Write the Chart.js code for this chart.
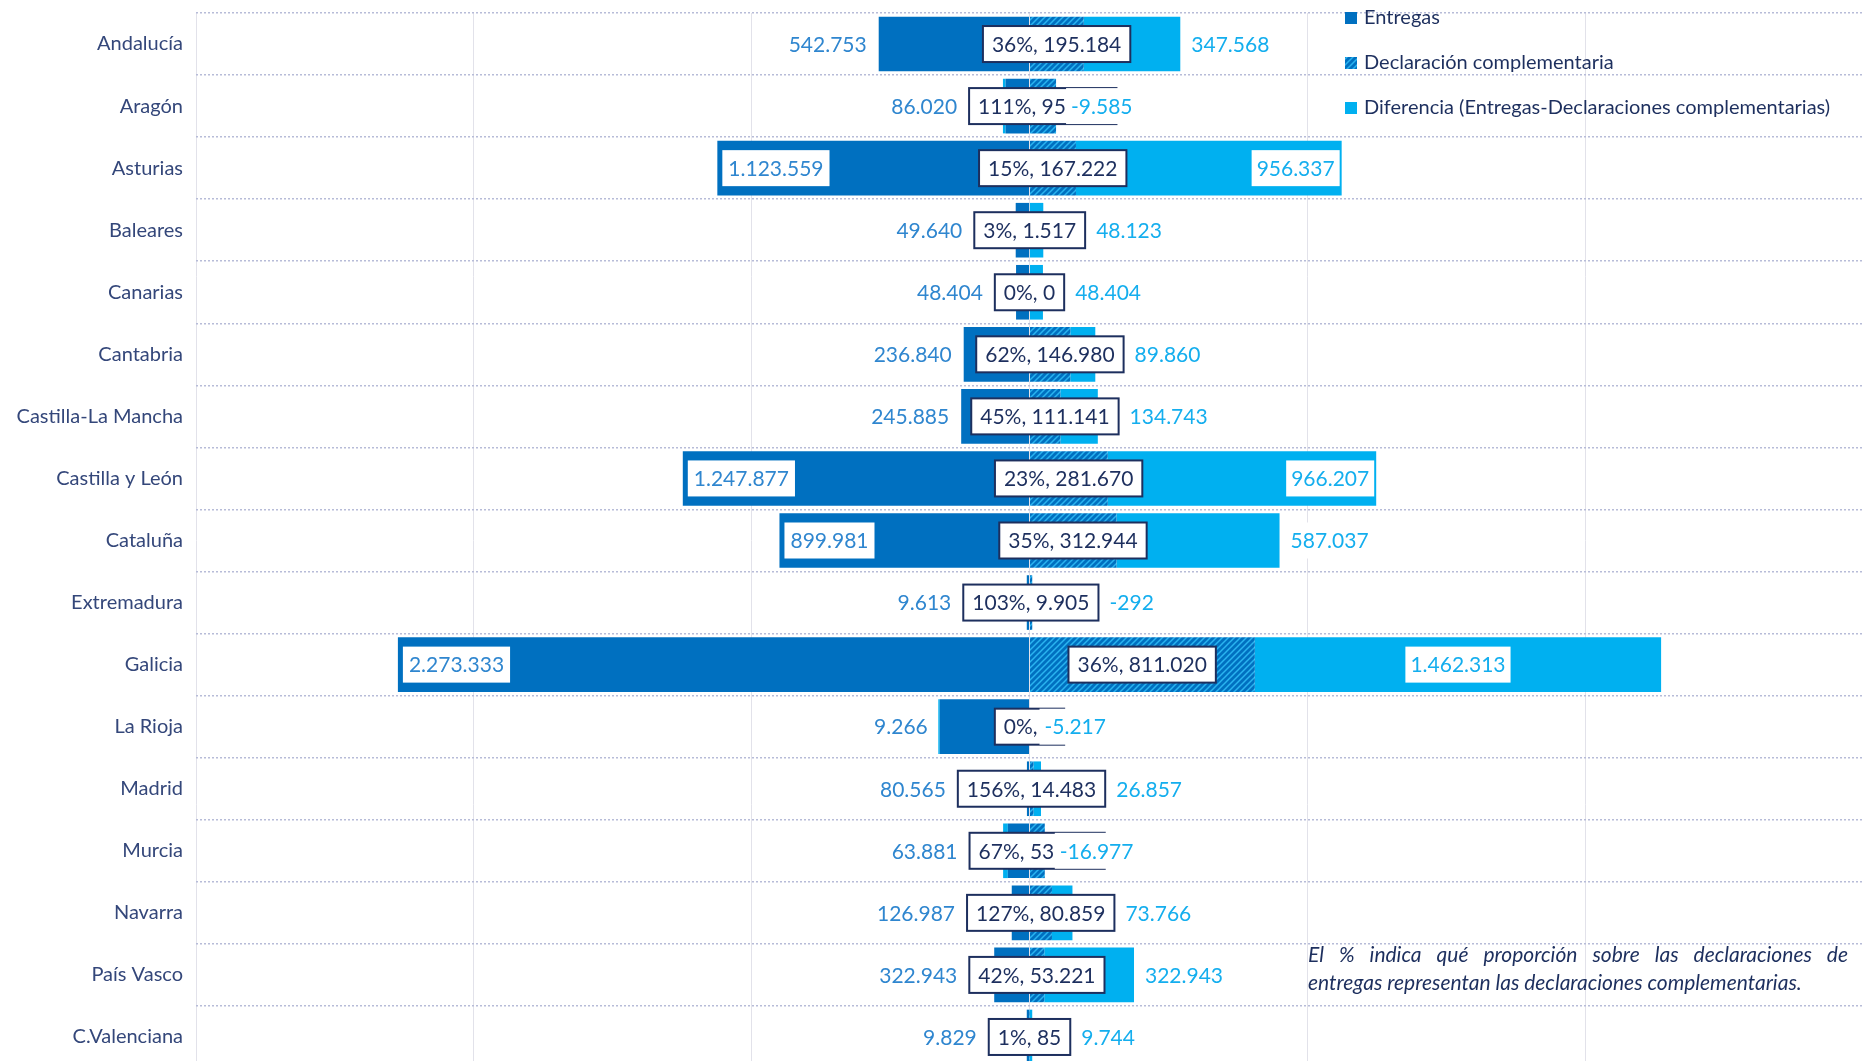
<!DOCTYPE html>
<html lang="es">
<head>
<meta charset="utf-8">
<title>Entregas y declaraciones complementarias</title>
<script src="https://cdn.jsdelivr.net/npm/chart.js@4.4.1/dist/chart.umd.min.js"></script>
<style>
    html, body { margin: 0; padding: 0; background: #fff; overflow: hidden; }
    .chart-wrap { position: relative; width: 1863px; height: 1105px; margin-top: -12px; }
</style>
</head>
<body>
<div class="chart-wrap"><canvas id="compChart"></canvas></div>
<script>
// Categories
const regions = ['Andalucía', 'Aragón', 'Asturias', 'Baleares', 'Canarias', 'Cantabria',
    'Castilla-La Mancha', 'Castilla y León', 'Cataluña', 'Extremadura', 'Galicia',
    'La Rioja', 'Madrid', 'Murcia', 'Navarra', 'País Vasco', 'C.Valenciana'];

// Bar values (as drawn)
const entregas = [542753, 86020, 1123559, 49640, 48404, 236840, 245885, 1247877, 899981,
    9613, 2273333, 323000, 9266, 78000, 63881, 126987, 9829];
const complementaria = [195184, 95605, 167222, 1517, 0, 146980, 111141, 281670, 312944,
    9905, 811020, 0, 14483, 55000, 80859, 53221, 85];
const diferencia = [347568, -9585, 956337, 48123, 48404, 89860, 134743, 966207, 587037,
    -292, 1462313, -5217, 26857, -16977, 73766, 322943, 9744];

// Texts printed on the labels
const entregasLabels = ['542.753', '86.020', '1.123.559', '49.640', '48.404', '236.840', '245.885',
    '1.247.877', '899.981', '9.613', '2.273.333', '9.266', '80.565', '63.881', '126.987', '322.943', '9.829'];
const complementariaLabels = ['36%, 195.184', '111%, 95.605', '15%, 167.222', '3%, 1.517', '0%, 0',
    '62%, 146.980', '45%, 111.141', '23%, 281.670', '35%, 312.944', '103%, 9.905', '36%, 811.020',
    '0%, 0', '156%, 14.483', '67%, 53.650', '127%, 80.859', '42%, 53.221', '1%, 85'];
const diferenciaLabels = ['347.568', '-9.585', '956.337', '48.123', '48.404', '89.860', '134.743',
    '966.207', '587.037', '-292', '1.462.313', '-5.217', '26.857', '-16.977', '73.766', '322.943', '9.744'];

const seriesNames = ['Entregas', 'Declaración complementaria', 'Diferencia (Entregas-Declaraciones complementarias)'];
const noteLines = ['El % indica qué proporción sobre las declaraciones de',
    'entregas representan las declaraciones complementarias.'];

const axisMin = -3000000;
const axisMax = 3000000;
const axisStep = 1000000;

// Colours
const DARK = '#0070C0';
const LIGHT = '#00B0F0';
const NAVY = '#1D2F5E';
const TEXT_NAVY = '#34477A';
const ENT_TEXT = '#2F86CF';
const DIF_TEXT = '#14AEEE';
const FONT = 'Lato, "Open Sans", sans-serif';

// canvas is shifted up by this much on the page
const SHIFT = 12;

const canvas = document.getElementById('compChart');
const ctx = canvas.getContext('2d');

// Diagonal hatch used for the complementary declarations
function makeHatch() {
    const c = document.createElement('canvas');
    c.width = 6;
    c.height = 6;
    const g = c.getContext('2d');
    g.fillStyle = DARK;
    g.fillRect(0, 0, 6, 6);
    g.strokeStyle = '#2AB4F0';
    g.lineWidth = 1.5;
    g.beginPath();
    g.moveTo(0, 6); g.lineTo(6, 0);
    g.moveTo(-3, 3); g.lineTo(3, -3);
    g.moveTo(3, 9); g.lineTo(9, 3);
    g.stroke();
    return ctx.createPattern(c, 'repeat');
}
const hatch = makeHatch();

// White label box, optional border
function drawBox(g, left, y, w, text, color, border) {
    const h = 36;
    g.fillStyle = '#fff';
    g.fillRect(left, y - h / 2, w, h);
    if (border) {
        g.strokeStyle = border;
        g.lineWidth = 2;
        g.strokeRect(left, y - h / 2, w, h);
    }
    g.fillStyle = color;
    g.textAlign = 'center';
    g.fillText(text, left + w / 2, y + 1);
}

const labelPlugin = {
    id: 'barLabels',
    afterDatasetsDraw(chart) {
        const g = chart.ctx;
        const xs = chart.scales.x;
        const ent = chart.getDatasetMeta(0).data;
        const dif = chart.getDatasetMeta(2).data;
        g.save();
        g.font = '21px ' + FONT;
        g.textBaseline = 'middle';
        regions.forEach((r, i) => {
            const y = ent[i].y;

            // complementary box geometry (centered on its bar, which starts at 0)
            const compEnd = xs.getPixelForValue(complementaria[i]);
            const cText = complementariaLabels[i];
            const cw = g.measureText(cText).width + 18;
            const cx = xs.getPixelForValue(complementaria[i] / 2);
            const cLeft = cx - cw / 2;
            const cRight = cx + cw / 2;

            // Entregas label
            const eText = entregasLabels[i];
            const ew = g.measureText(eText).width + 12;
            const eLen = ent[i].base - ent[i].x;
            let eLeft;
            if (eLen > 200) {
                eLeft = ent[i].x + 5;
            } else {
                eLeft = Math.min(ent[i].x, cLeft) - 6 - ew;
            }
            drawBox(g, eLeft, y, ew, eText, ENT_TEXT, null);

            drawBox(g, cLeft, y, cw, cText, NAVY, NAVY);

            // Diferencia label
            const d = diferencia[i];
            const dText = diferenciaLabels[i];
            const dw = g.measureText(dText).width + 10;
            const dLen = Math.abs(dif[i].x - dif[i].base);
            let dLeft;
            if (d > 0 && dLen > 350) {
                dLeft = (dif[i].x + dif[i].base) / 2 - dw / 2;
            } else if (d > 0 && dLen > 250) {
                dLeft = dif[i].x - dw - 2;
            } else if (d < -1000) {
                dLeft = compEnd + 10;
            } else {
                dLeft = Math.max(d > 0 ? dif[i].x : compEnd, cRight) + 6;
            }
            drawBox(g, dLeft, y, dw, dText, DIF_TEXT, null);
        });
        g.restore();
    },
    afterDraw(chart) {
        const g = chart.ctx;
        g.save();

        // Legend
        const swatches = [DARK, hatch, LIGHT];
        const legendY = [18, 63, 108];
        g.font = '20px ' + FONT;
        g.textBaseline = 'middle';
        g.textAlign = 'left';
        seriesNames.forEach((name, k) => {
            g.fillStyle = swatches[k];
            g.fillRect(1345, legendY[k] + SHIFT - 6, 12, 12);
            g.fillStyle = NAVY;
            g.fillText(name, 1364, legendY[k] + SHIFT);
        });

        // Footnote, first line justified
        g.font = 'italic 21px ' + FONT;
        const left = 1308;
        const width = 540;
        const words = noteLines[0].split(' ');
        const wordsWidth = words.reduce((s, w) => s + g.measureText(w).width, 0);
        const gap = (width - wordsWidth) / (words.length - 1);
        let x = left;
        words.forEach(w => {
            g.fillText(w, x, 955 + SHIFT);
            x += g.measureText(w).width + gap;
        });
        g.fillText(noteLines[1], left, 983 + SHIFT);
        g.restore();
    }
};

new Chart(ctx, {
    type: 'bar',
    data: {
        labels: regions,
        datasets: [{
            label: seriesNames[0],
            data: entregas.map(v => -v),
            backgroundColor: DARK
        }, {
            label: seriesNames[1],
            data: complementaria,
            backgroundColor: hatch
        }, {
            label: seriesNames[2],
            data: diferencia,
            backgroundColor: LIGHT
        }]
    },
    options: {
        indexAxis: 'y',
        responsive: true,
        maintainAspectRatio: false,
        animation: false,
        datasets: {
            bar: {
                barPercentage: 0.88,
                categoryPercentage: 1,
                borderWidth: 0,
                stack: 'all'
            }
        },
        layout: {
            padding: { top: 0, bottom: 0, left: 0, right: 0 }
        },
        plugins: {
            legend: { display: false },
            tooltip: { enabled: false }
        },
        scales: {
            x: {
                stacked: true,
                min: axisMin,
                max: axisMax,
                ticks: { display: false, stepSize: axisStep },
                grid: { color: '#e2e2ea', lineWidth: 1, drawTicks: false },
                border: { display: false },
                afterFit(scale) { scale.height = 0; }
            },
            y: {
                stacked: true,
                grid: { offset: true, color: '#b7bcd8', lineWidth: 1.5, drawTicks: false },
                border: { display: false, dash: [2, 2] },
                ticks: {
                    color: TEXT_NAVY,
                    font: { family: FONT, size: 20 },
                    padding: 13
                },
                afterFit(scale) { scale.width = 196; }
            }
        }
    },
    plugins: [labelPlugin]
});
</script>
</body>
</html>
